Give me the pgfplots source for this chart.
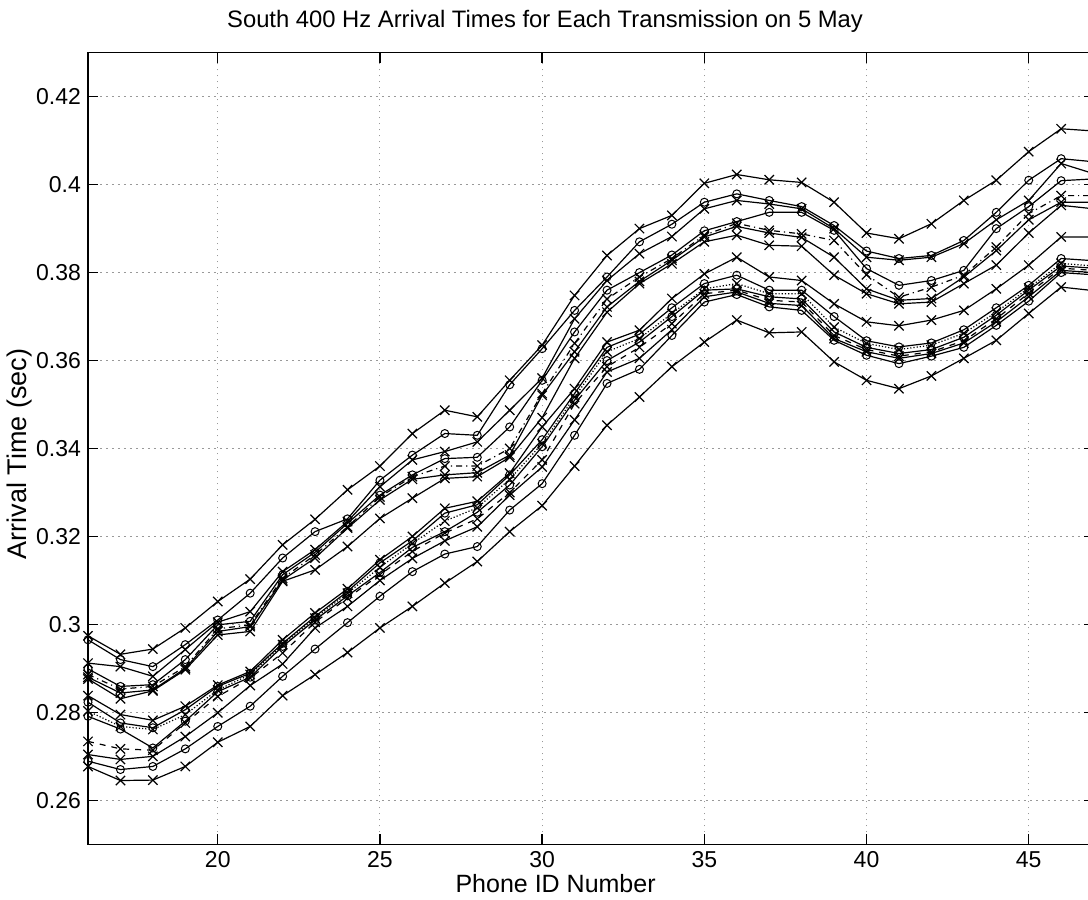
\documentclass[border=0pt]{standalone}
\usepackage{pgfplots}
\usepackage{pgfplotstable}
\pgfplotsset{compat=1.18}
\usepackage{fontspec}
\setmainfont{Liberation Sans}

\pgfplotstableread{
x   U1    U2    U3    U4    U5    U6    U7    L1    L2    L3    L4    L5    L6    L7    L8
16 .2974 .2965 .2912 .2899 .2886 .2880 .2876 .2838 .2823 .2803 .2791 .2734 .2704 .2689 .2677
17 .2932 .2920 .2904 .2859 .2853 .2844 .2831 .2795 .2776 .2768 .2762 .2717 .2693 .2670 .2645
18 .2944 .2904 .2882 .2863 .2859 .2851 .2849 .2782 .2765 .2761 .2719 .2714 .2700 .2677 .2646
19 .2992 .2954 .2943 .2920 .2904 .2900 .2897 .2814 .2806 .2795 .2780 .2776 .2745 .2717 .2677
20 .3052 .3010 .3005 .2999 .2990 .2984 .2976 .2862 .2859 .2851 .2847 .2836 .2799 .2768 .2732
21 .3103 .3071 .3029 .3007 .2999 .2995 .2984 .2893 .2889 .2886 .2880 .2878 .2861 .2814 .2768
22 .3181 .3151 .3120 .3113 .3105 .3101 .3098 .2965 .2957 .2954 .2950 .2935 .2910 .2882 .2838
23 .3239 .3211 .3170 .3164 .3158 .3151 .3124 .3026 .3018 .3014 .3010 .3005 .2992 .2944 .2886
24 .3306 .3240 .3234 .3230 .3222 .3219 .3177 .3081 .3075 .3071 .3065 .3060 .3041 .3004 .2936
25 .3360 .3328 .3313 .3294 .3290 .3283 .3241 .3147 .3140 .3130 .3118 .3113 .3100 .3064 .2992
26 .3434 .3385 .3374 .3340 .3336 .3330 .3287 .3200 .3190 .3184 .3175 .3166 .3150 .3120 .3041
27 .3487 .3434 .3393 .3377 .3360 .3340 .3332 .3264 .3253 .3235 .3211 .3208 .3190 .3160 .3094
28 .3472 .3430 .3415 .3380 .3360 .3345 .3336 .3280 .3272 .3265 .3255 .3240 .3222 .3177 .3143
29 .3555 .3545 .3487 .3449 .3400 .3385 .3380 .3344 .3340 .3330 .3317 .3300 .3294 .3260 .3211
30 .3635 .3627 .3560 .3555 .3525 .3521 .3470 .3449 .3420 .3411 .3404 .3374 .3358 .3320 .3270
31 .3748 .3714 .3695 .3665 .3639 .3620 .3605 .3536 .3525 .3517 .3510 .3502 .3465 .3430 .3360
32 .3839 .3790 .3782 .3760 .3740 .3722 .3710 .3642 .3630 .3620 .3600 .3586 .3574 .3548 .3453
33 .3900 .3870 .3843 .3800 .3790 .3780 .3775 .3669 .3660 .3650 .3642 .3630 .3605 .3580 .3517
34 .3930 .3910 .3882 .3840 .3832 .3828 .3820 .3741 .3720 .3707 .3700 .3684 .3670 .3657 .3586
35 .4003 .3960 .3945 .3895 .3885 .3881 .3870 .3797 .3775 .3763 .3760 .3752 .3745 .3733 .3642
36 .4023 .3979 .3964 .3916 .3912 .3905 .3885 .3835 .3794 .3775 .3763 .3760 .3756 .3750 .3692
37 .4011 .3964 .3956 .3937 .3896 .3890 .3862 .3790 .3760 .3752 .3745 .3737 .3730 .3722 .3663
38 .4005 .3950 .3945 .3937 .3888 .3880 .3860 .3782 .3760 .3752 .3740 .3733 .3725 .3714 .3665
39 .3960 .3907 .3900 .3896 .3873 .3835 .3794 .3729 .3700 .3676 .3665 .3657 .3650 .3646 .3597
40 .3890 .3849 .3835 .3809 .3795 .3763 .3752 .3688 .3645 .3639 .3630 .3625 .3620 .3612 .3555
41 .3877 .3832 .3828 .3771 .3744 .3737 .3729 .3679 .3631 .3625 .3616 .3610 .3605 .3593 .3536
42 .3911 .3839 .3835 .3782 .3767 .3741 .3733 .3692 .3640 .3635 .3625 .3620 .3616 .3610 .3565
43 .3964 .3873 .3866 .3805 .3794 .3790 .3775 .3714 .3670 .3662 .3653 .3645 .3640 .3630 .3605
44 .4010 .3937 .3920 .3900 .3858 .3850 .3817 .3763 .3720 .3710 .3703 .3695 .3688 .3680 .3646
45 .4075 .4010 .3964 .3950 .3934 .3920 .3890 .3817 .3771 .3765 .3760 .3753 .3745 .3735 .3707
46 .4127 .4059 .4048 .4009 .3975 .3960 .3953 .3881 .3832 .3821 .3815 .3810 .3805 .3800 .3767
47 .4122 .4052 .4025 .4013 .3975 .3960 .3945 .3881 .3827 .3815 .3810 .3805 .3800 .3795 .3759
}\datatable

\begin{document}
\begin{tikzpicture}
\begin{axis}[
  at={(0pt,0pt)}, anchor=south west,
  scale only axis,
  width=502.8pt, height=395.8pt,
  xmin=16, xmax=47, ymin=0.25, ymax=0.43,
  xtick={20,25,30,35,40,45},
  ytick={0.26,0.28,0.30,0.32,0.34,0.36,0.38,0.40,0.42},
  /pgf/number format/assume math mode=true,
  yticklabel style={/pgf/number format/fixed,/pgf/number format/precision=2},
  tick label style={font=\fontsize{11.5}{13}\selectfont},
  tick pos=both, tick align=inside,
  major tick length=5pt,
  tick style={black, line width=0.7pt},
  axis line style={line width=0.75pt},
  grid=major,
  major grid style={gray!80, line width=0.5pt, dash pattern=on 0.8pt off 2.2pt},
  title={South 400 Hz Arrival Times for Each Transmission on 5 May},
  every axis title/.style={at={(axis description cs:0.4545,1)}, anchor=base, yshift=12.6pt, font=\fontsize{11.9}{13}\selectfont},
  xlabel={Phone ID Number},
  xlabel style={at={(axis description cs:0.465,-0.0603)}, anchor=base, font=\fontsize{12.5}{14}\selectfont},
  ylabel={Arrival Time (sec)},
  ylabel style={at={(axis description cs:-0.0607,0.493)}, anchor=base, font=\fontsize{13.5}{15}\selectfont},
  every axis plot/.append style={black, line width=0.6pt},
  xm/.style={mark=x, mark size=3.3pt, mark options={solid}},
  om/.style={mark=o, mark size=2pt, mark options={solid, line width=0.5pt}},
]
\addplot[xm] table[x=x,y=U1] {\datatable};
\addplot[om] table[x=x,y=U2] {\datatable};
\addplot[xm] table[x=x,y=U3] {\datatable};
\addplot[om] table[x=x,y=U4] {\datatable};
\addplot[xm, dashdotted] table[x=x,y=U5] {\datatable};
\addplot[xm] table[x=x,y=U6] {\datatable};
\addplot[xm] table[x=x,y=U7] {\datatable};
\addplot[xm] table[x=x,y=L1] {\datatable};
\addplot[om] table[x=x,y=L2] {\datatable};
\addplot[xm, densely dotted] table[x=x,y=L3] {\datatable};
\addplot[om] table[x=x,y=L4] {\datatable};
\addplot[xm, dashed] table[x=x,y=L5] {\datatable};
\addplot[xm] table[x=x,y=L6] {\datatable};
\addplot[om] table[x=x,y=L7] {\datatable};
\addplot[xm] table[x=x,y=L8] {\datatable};
\end{axis}
\pgfresetboundingbox
\path[use as bounding box] (-44pt,-27.85pt) rectangle (500pt,422.15pt);
\end{tikzpicture}
\end{document}
